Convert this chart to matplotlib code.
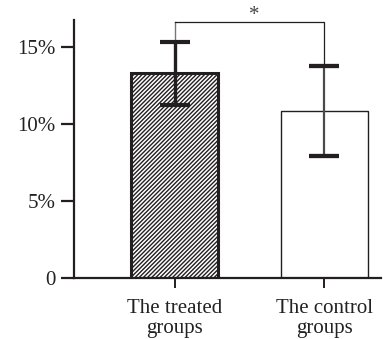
import numpy as np
import matplotlib.pyplot as plt

# rate per group (%), with error bar half-lengths
groups = ["The treated\ngroups", "The control\ngroups"]
means = [13.3, 10.85]
errors = [2.05, 2.9]
yticks = [0, 5, 10, 15]
ytick_labels = ["0", "5%", "10%", "15%"]
bracket_y = 16.6
star_label = "*"

INK = "#231f20"

plt.rcParams["font.family"] = ["Liberation Serif", "DejaVu Serif"]
plt.rcParams["hatch.linewidth"] = 1.0
plt.rcParams["hatch.color"] = INK

fig = plt.figure(figsize=(3.83, 3.39), dpi=100)
ax = fig.add_axes([0.1932, 0.1799, 0.8016, 0.7611])

x = np.arange(len(groups))
width = 0.58

ax.bar(x[0], means[0], width, color="white", edgecolor=INK, linewidth=2.2,
       hatch="////////", zorder=2)
ax.bar(x[1], means[1], width, color="white", edgecolor=INK, linewidth=1.0,
       zorder=2)
# heavier base line under the open bar
ax.plot([x[1] - width / 2, x[1] + width / 2], [0, 0], color=INK, lw=2.2,
        zorder=3, solid_capstyle="butt")

ax.errorbar(x[0], means[0], yerr=errors[0], fmt="none", ecolor=INK,
            elinewidth=2.4, capsize=11, capthick=3, zorder=4)
ax.errorbar(x[1], means[1], yerr=errors[1], fmt="none", ecolor="#4a4a4a",
            elinewidth=1.6, capsize=11, capthick=3, zorder=4)
ax.errorbar(x[1], means[1], yerr=errors[1], fmt="none", ecolor=INK,
            elinewidth=0, capsize=11, capthick=3, zorder=5)

# significance bracket
top0 = means[0] + errors[0]
top1 = means[1] + errors[1]
ax.plot([x[0], x[0]], [top0, bracket_y], color="#777777", lw=1.0,
        clip_on=False, zorder=1)
ax.plot([x[0], x[1], x[1]], [bracket_y, bracket_y, top1],
        color=INK, lw=0.9, clip_on=False, zorder=1)
ax.text((x[0] + x[1]) / 2 + 0.03, bracket_y + 0.45, star_label, ha="center",
        va="center", fontsize=15, color="#444444", clip_on=False)

ax.set_xlim(-0.673, 1.38)
ax.set_ylim(0, 16.75)
ax.set_xticks(x)
ax.set_xticklabels(groups, fontsize=15, color="#222222", linespacing=1.05)
ax.set_yticks(yticks)
ax.set_yticklabels(ytick_labels, fontsize=15, color="#222222")

for side in ("top", "right"):
    ax.spines[side].set_visible(False)
for side in ("left", "bottom"):
    ax.spines[side].set_linewidth(1.6)
    ax.spines[side].set_color(INK)

ax.tick_params(axis="y", length=9.4, width=1.6, color=INK, pad=4)
ax.tick_params(axis="x", length=7, width=1.4, color=INK, pad=8)

fig.savefig("out.png", dpi=100)
